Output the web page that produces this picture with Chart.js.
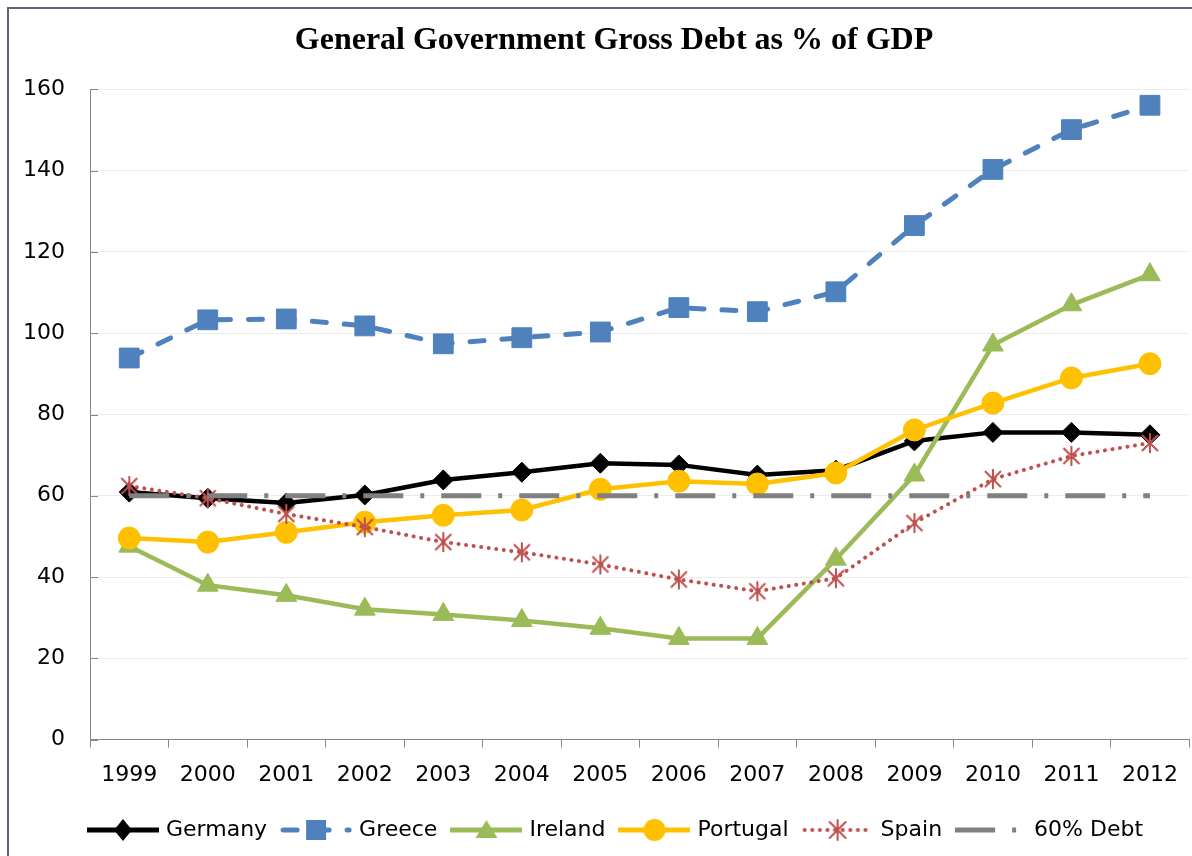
<!DOCTYPE html>
<html>
<head>
<meta charset="utf-8">
<script src="https://cdn.jsdelivr.net/npm/chart.js@4.4.1/dist/chart.umd.min.js"></script>
<style>
html, body { margin: 0; padding: 0; background: #fff; }
#wrap { position: relative; width: 1192px; height: 856px; overflow: hidden; }
#frame { position: absolute; left: 7px; top: 7px; width: 1300px; height: 1000px;
  border-left: 2px solid #60607a; border-top: 2px solid #60607a; pointer-events: none; }
canvas { position: absolute; left: 0; top: 0; }
</style>
</head>
<body>
<div id="wrap"><canvas id="debtChart" width="1192" height="856"></canvas><div id="frame"></div></div>
<script>
// data (% of GDP)
const years = ['1999', '2000', '2001', '2002', '2003', '2004', '2005', '2006', '2007', '2008', '2009', '2010', '2011', '2012'];
const germany  = [60.9, 59.4, 58.2, 60.2, 63.9, 65.8, 68.0, 67.6, 65.1, 66.3, 73.5, 75.6, 75.6, 75.0];
const greece   = [93.9, 103.3, 103.5, 101.8, 97.4, 98.9, 100.3, 106.3, 105.3, 110.2, 126.5, 140.3, 150.1, 156.1];
const ireland  = [47.6, 38.0, 35.5, 32.1, 30.8, 29.3, 27.4, 24.9, 24.9, 44.4, 65.1, 97.1, 107.0, 114.4];
const portugal = [49.6, 48.6, 51.0, 53.5, 55.2, 56.5, 61.6, 63.6, 62.9, 65.6, 76.2, 82.8, 89.0, 92.5];
const spain    = [62.4, 59.4, 55.5, 52.3, 48.6, 46.1, 43.1, 39.4, 36.5, 39.7, 53.3, 64.1, 69.8, 73.0];
const debtLimit = [60, 60, 60, 60, 60, 60, 60, 60, 60, 60, 60, 60, 60, 60];

const labelFont = { family: 'DejaVu Sans', size: 22 };

// asterisk marker like the spreadsheet "star"
function drawStar(ctx, x, y, color) {
    ctx.save();
    ctx.strokeStyle = color;
    ctx.lineWidth = 2;
    ctx.beginPath();
    ctx.moveTo(x, y - 10); ctx.lineTo(x, y + 10);
    ctx.moveTo(x - 8, y - 8); ctx.lineTo(x + 8, y + 8);
    ctx.moveTo(x + 8, y - 8); ctx.lineTo(x - 8, y + 8);
    ctx.stroke();
    ctx.restore();
}
const starImg = document.createElement('canvas');
starImg.width = 22; starImg.height = 22;
drawStar(starImg.getContext('2d'), 11, 11, '#C0504D');

// small legend pictures: line piece + marker (a bit wider than the legend box, so they spill over)
const iconW = 72;
function legendIcon(color, width, dash, cap, marker) {
    const c = document.createElement('canvas');
    c.width = iconW; c.height = 24;
    const g = c.getContext('2d');
    const mid = iconW / 2;
    g.strokeStyle = color;
    g.fillStyle = color;
    g.lineWidth = width;
    g.lineCap = cap;
    g.setLineDash(dash);
    g.beginPath();
    g.moveTo(cap === 'round' ? 3 : 0, 12);
    g.lineTo(cap === 'round' ? iconW - 3 : iconW, 12);
    g.stroke();
    g.setLineDash([]);
    g.beginPath();
    if (marker === 'diamond') {
        g.moveTo(mid, 1); g.lineTo(mid + 9, 12); g.lineTo(mid, 23); g.lineTo(mid - 9, 12); g.closePath(); g.fill();
    } else if (marker === 'square') {
        g.fillRect(mid - 10, 2, 20, 20);
    } else if (marker === 'triangle') {
        g.moveTo(mid, 2); g.lineTo(mid + 11, 20); g.lineTo(mid - 11, 20); g.closePath(); g.fill();
    } else if (marker === 'circle') {
        g.arc(mid, 12, 11, 0, Math.PI * 2); g.fill();
    } else if (marker === 'star') {
        drawStar(g, mid, 12, color);
    }
    return c;
}

const legendIcons = [
    legendIcon('#000000', 5, [], 'butt', 'diamond'),
    legendIcon('#4F81BD', 5, [14, 18], 'round', 'square'),
    legendIcon('#9BBB59', 5, [], 'butt', 'triangle'),
    legendIcon('#FFC000', 5, [], 'butt', 'circle'),
    legendIcon('#C0504D', 4, [0.1, 7.5], 'round', 'star'),
    legendIcon('#808080', 5, [40, 17, 4, 17], 'butt', null)
];

// short tick marks on the inner side of the value axis
const innerTicks = {
    id: 'innerTicks',
    beforeDatasetsDraw(chart) {
        const { ctx, chartArea } = chart;
        const y = chart.scales.y;
        ctx.save();
        ctx.strokeStyle = '#868686';
        ctx.lineWidth = 1;
        y.ticks.forEach(t => {
            const py = Math.round(y.getPixelForValue(t.value)) + 0.5;
            ctx.beginPath();
            ctx.moveTo(chartArea.left, py);
            ctx.lineTo(chartArea.left + 8, py);
            ctx.stroke();
        });
        ctx.restore();
    }
};

// title and legend sit a little right of the canvas centre in the original
const nudge = {
    id: 'nudge',
    afterLayout(chart) {
        chart.legend.left += 11; chart.legend.right += 11;
        chart.titleBlock.left += 8; chart.titleBlock.right += 8;
    }
};

const datasets = [
    {
        label: 'Germany', data: germany, order: 6,
        borderColor: '#000000', backgroundColor: '#000000', borderWidth: 4.5,
        pointStyle: 'rectRot', pointRadius: 10, pointBorderWidth: 1
    },
    {
        label: 'Greece', data: greece, order: 5,
        borderColor: '#4F81BD', backgroundColor: '#4F81BD', borderWidth: 5,
        borderDash: [14, 18], borderCapStyle: 'round',
        pointStyle: 'rect', pointRadius: 14, pointBorderWidth: 1
    },
    {
        label: 'Ireland', data: ireland, order: 4,
        borderColor: '#9BBB59', backgroundColor: '#9BBB59', borderWidth: 4.5,
        pointStyle: 'triangle', pointRadius: 12, pointBorderWidth: 1
    },
    {
        label: 'Portugal', data: portugal, order: 3,
        borderColor: '#FFC000', backgroundColor: '#FFC000', borderWidth: 4.5,
        pointStyle: 'circle', pointRadius: 11, pointBorderWidth: 1
    },
    {
        label: 'Spain', data: spain, order: 2,
        borderColor: '#C0504D', backgroundColor: '#C0504D', borderWidth: 4,
        borderDash: [0.1, 7.5], borderCapStyle: 'round',
        pointStyle: starImg, pointRadius: 10
    },
    {
        label: '60% Debt', data: debtLimit, order: 1,
        borderColor: '#808080', backgroundColor: '#808080', borderWidth: 5,
        borderDash: [40, 17, 4, 17],
        pointRadius: 0
    }
];

new Chart(document.getElementById('debtChart'), {
    type: 'line',
    data: { labels: years, datasets: datasets },
    plugins: [innerTicks, nudge],
    options: {
        responsive: false,
        animation: false,
        layout: { autoPadding: false, padding: { left: 22, right: 2, top: 0, bottom: 5 } },
        elements: { line: { tension: 0 } },
        plugins: {
            title: {
                display: true,
                text: 'General Government Gross Debt as % of GDP',
                color: '#000',
                font: { family: 'Liberation Serif', size: 32, weight: 'bold' },
                padding: { top: 22, bottom: 29 }
            },
            legend: {
                position: 'bottom',
                labels: {
                    color: '#000',
                    font: labelFont,
                    usePointStyle: true,
                    pointStyleWidth: 64,
                    padding: 17,
                    sort: (a, b) => a.datasetIndex - b.datasetIndex,
                    generateLabels(chart) {
                        const items = Chart.defaults.plugins.legend.labels.generateLabels(chart);
                        items.forEach(it => { it.pointStyle = legendIcons[it.datasetIndex]; it.lineWidth = 0; });
                        return items;
                    }
                }
            },
            tooltip: { enabled: false }
        },
        scales: {
            x: {
                offset: true,
                grid: { offset: true, drawOnChartArea: false, drawTicks: true, tickLength: 8, color: '#868686' },
                border: { color: '#868686', width: 1 },
                ticks: { color: '#000', font: labelFont, padding: 14, maxRotation: 0, autoSkip: false }
            },
            y: {
                min: 0, max: 160,
                afterFit(scale) { scale.width = 68; },
                grid: { color: '#ebebeb', drawTicks: false },
                border: { color: '#868686', width: 1 },
                ticks: { stepSize: 20, color: '#000', font: labelFont, padding: 25 }
            }
        }
    }
});
</script>
</body>
</html>
